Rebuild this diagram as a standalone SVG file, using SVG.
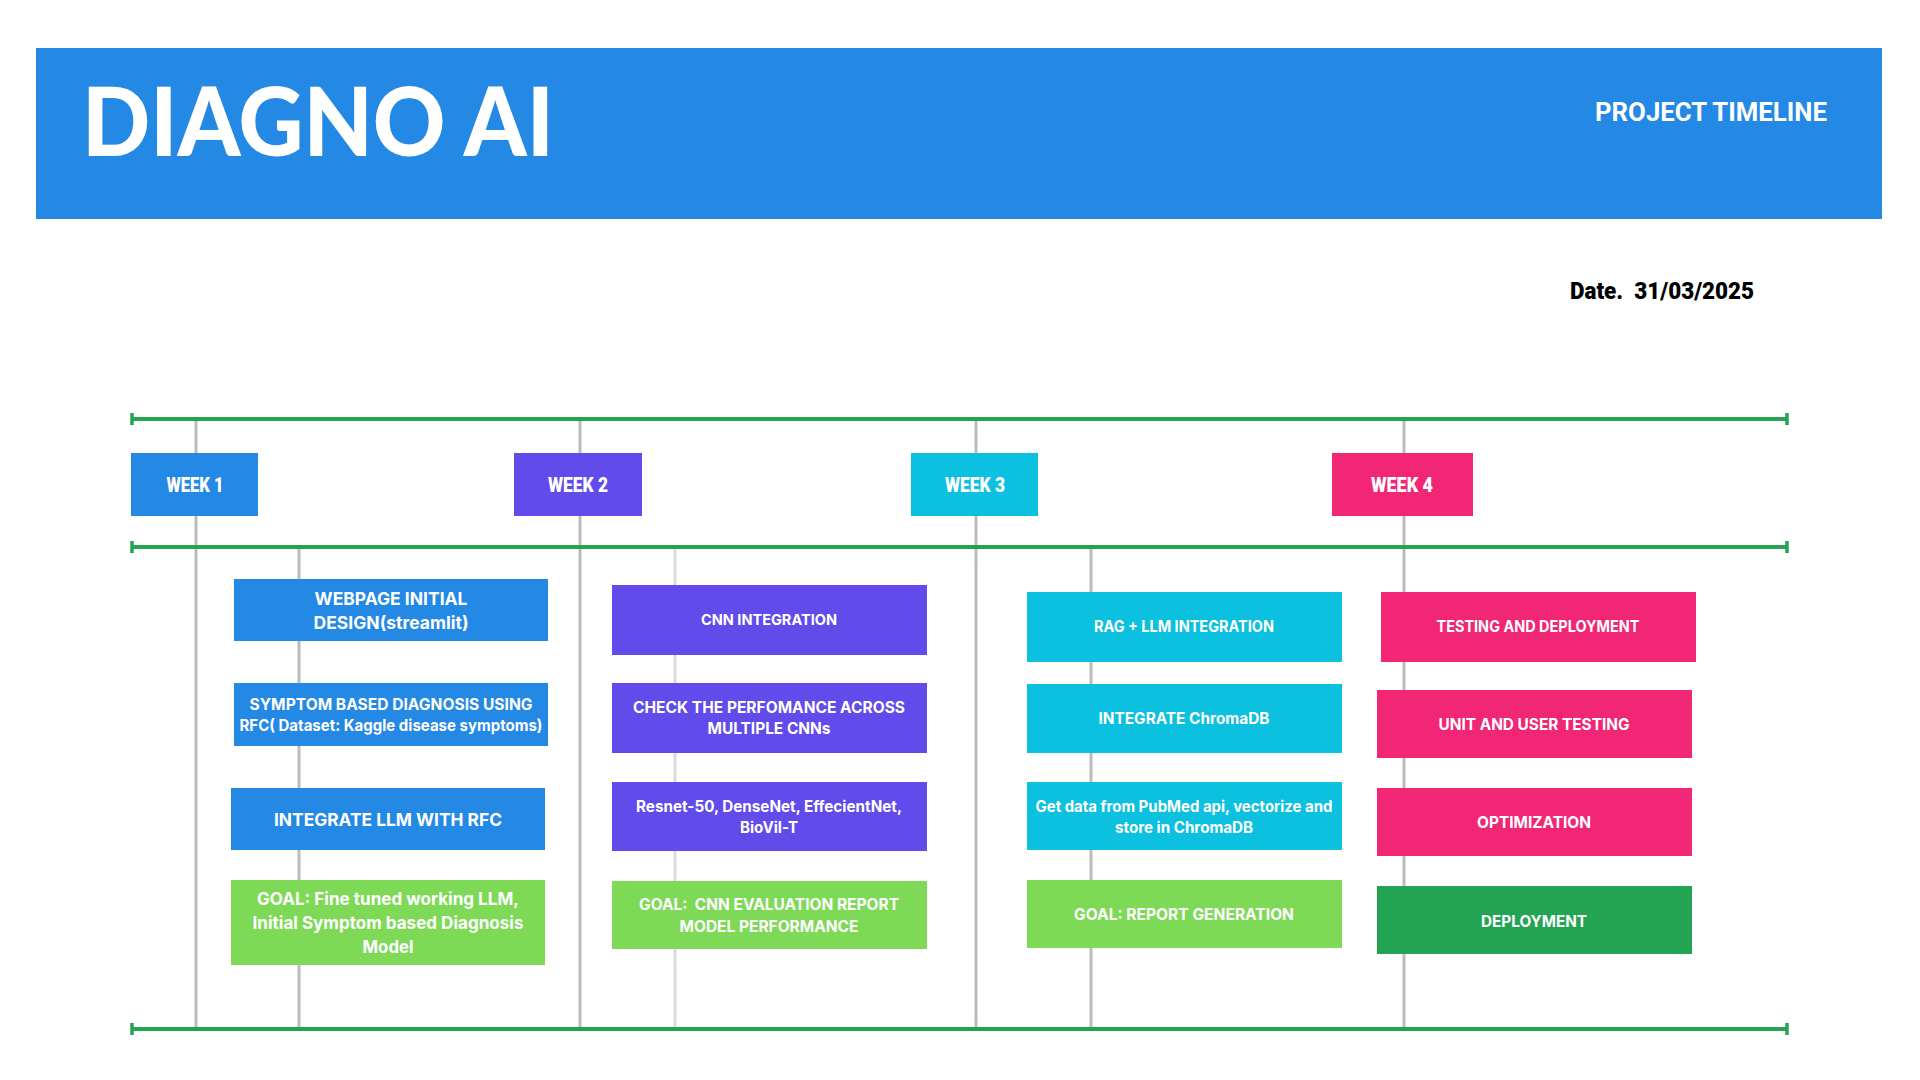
<svg xmlns="http://www.w3.org/2000/svg" width="1920" height="1080" viewBox="0 0 1920 1080">
<style>
.t{font-family:Inter,"Noto Sans","Liberation Sans",sans-serif;font-weight:700;fill:#fff;text-anchor:middle}
.w{font-family:Roboto,"Liberation Sans",sans-serif;font-weight:900;fill:#fff;text-anchor:middle;font-size:20px}
.g{stroke:#24a352;stroke-width:4;fill:none}
.cap{stroke:#24a352;stroke-width:3.5}
.v{stroke:#bcbcbc;stroke-width:3}
.vl{stroke:#dcdcdc;stroke-width:3}
.blue{fill:#2488e5}.pur{fill:#614bea}.cyan{fill:#0cc0df}.pink{fill:#f12675}.lg{fill:#7ed957}.dg{fill:#23a455}
</style>
<rect width="1920" height="1080" fill="#fff"/>
<g id="header">
<rect x="36" y="48" width="1846" height="171" fill="#2488e5"/>
<text x="82" y="156" font-family="Lato,Inter,'Liberation Sans',sans-serif" font-weight="900" font-size="95" fill="#fff" textLength="472" lengthAdjust="spacingAndGlyphs">DIAGNO AI</text>
<text x="1595" y="121" font-family="Roboto,'Liberation Sans',sans-serif" font-weight="700" font-size="25" fill="#fff" textLength="232" lengthAdjust="spacingAndGlyphs">PROJECT TIMELINE</text>
</g>
<g id="date">
<text x="1570" y="299" font-family="Roboto,'Liberation Sans',sans-serif" font-weight="900" font-size="24" fill="#000" textLength="184" lengthAdjust="spacingAndGlyphs" xml:space="preserve">Date.  31/03/2025</text>
</g>
<g id="connectors">
<line class="v" x1="196" y1="419" x2="196" y2="1029"/>
<line class="v" x1="299" y1="547" x2="299" y2="1029"/>
<line class="v" x1="580" y1="419" x2="580" y2="1029"/>
<line class="vl" x1="675" y1="547" x2="675" y2="1029"/>
<line class="v" x1="976" y1="419" x2="976" y2="1029"/>
<line class="v" x1="1091" y1="547" x2="1091" y2="1029"/>
<line class="v" x1="1404" y1="419" x2="1404" y2="1029"/>
<line class="g" x1="132" y1="419" x2="1787" y2="419"/>
<line class="cap" x1="132" y1="413" x2="132" y2="425"/>
<line class="cap" x1="1787" y1="413" x2="1787" y2="425"/>
<line class="g" x1="132" y1="547" x2="1787" y2="547"/>
<line class="cap" x1="132" y1="541" x2="132" y2="553"/>
<line class="cap" x1="1787" y1="541" x2="1787" y2="553"/>
<line class="g" x1="132" y1="1029" x2="1787" y2="1029"/>
<line class="cap" x1="132" y1="1023" x2="132" y2="1035"/>
<line class="cap" x1="1787" y1="1023" x2="1787" y2="1035"/>
</g>
<g id="week1"><rect class="blue" x="131" y="453" width="127" height="63"/><text class="w" x="195" y="492" textLength="57" lengthAdjust="spacingAndGlyphs">WEEK 1</text></g>
<g id="week2"><rect class="pur" x="514" y="453" width="128" height="63"/><text class="w" x="578" y="492" textLength="60" lengthAdjust="spacingAndGlyphs">WEEK 2</text></g>
<g id="week3"><rect class="cyan" x="911" y="453" width="127" height="63"/><text class="w" x="975" y="492" textLength="60" lengthAdjust="spacingAndGlyphs">WEEK 3</text></g>
<g id="week4"><rect class="pink" x="1332" y="453" width="141" height="63"/><text class="w" x="1402" y="492" textLength="62" lengthAdjust="spacingAndGlyphs">WEEK 4</text></g>

<g id="w1-webpage"><rect class="blue" x="234" y="579" width="314" height="62"/>
<text class="t" x="391" y="605" font-size="17.5" textLength="153" lengthAdjust="spacingAndGlyphs">WEBPAGE INITIAL</text>
<text class="t" x="391" y="629" font-size="17.5" textLength="155" lengthAdjust="spacingAndGlyphs">DESIGN(streamlit)</text></g>
<g id="w1-symptom"><rect class="blue" x="234" y="683" width="314" height="63"/>
<text class="t" x="391" y="710" font-size="16" textLength="283" lengthAdjust="spacingAndGlyphs">SYMPTOM BASED DIAGNOSIS USING</text>
<text class="t" x="391" y="731" font-size="16" textLength="303" lengthAdjust="spacingAndGlyphs">RFC( Dataset: Kaggle disease symptoms)</text></g>
<g id="w1-llm"><rect class="blue" x="231" y="788" width="314" height="62"/>
<text class="t" x="388" y="826" font-size="17.5" textLength="228" lengthAdjust="spacingAndGlyphs">INTEGRATE LLM WITH RFC</text></g>
<g id="w1-goal"><rect class="lg" x="231" y="880" width="314" height="85"/>
<text class="t" x="388" y="905" font-size="17.5" textLength="262" lengthAdjust="spacingAndGlyphs">GOAL: Fine tuned working LLM,</text>
<text class="t" x="388" y="929" font-size="17.5" textLength="271" lengthAdjust="spacingAndGlyphs">Initial Symptom based Diagnosis</text>
<text class="t" x="388" y="953" font-size="17.5" textLength="51" lengthAdjust="spacingAndGlyphs">Model</text></g>

<g id="w2-cnn"><rect class="pur" x="612" y="585" width="315" height="70"/>
<text class="t" x="769" y="625" font-size="15" textLength="136" lengthAdjust="spacingAndGlyphs">CNN INTEGRATION</text></g>
<g id="w2-check"><rect class="pur" x="612" y="683" width="315" height="70"/>
<text class="t" x="769" y="713" font-size="15.5" textLength="272" lengthAdjust="spacingAndGlyphs">CHECK THE PERFOMANCE ACROSS</text>
<text class="t" x="769" y="734" font-size="15.5" textLength="123" lengthAdjust="spacingAndGlyphs">MULTIPLE CNNs</text></g>
<g id="w2-models"><rect class="pur" x="612" y="782" width="315" height="69"/>
<text class="t" x="769" y="812" font-size="15.5" textLength="266" lengthAdjust="spacingAndGlyphs">Resnet-50, DenseNet, EffecientNet,</text>
<text class="t" x="769" y="833" font-size="15.5" textLength="58" lengthAdjust="spacingAndGlyphs">BioVil-T</text></g>
<g id="w2-goal"><rect class="lg" x="612" y="881" width="315" height="68"/>
<text class="t" x="769" y="910" font-size="15.5" textLength="260" lengthAdjust="spacingAndGlyphs" xml:space="preserve">GOAL:  CNN EVALUATION REPORT</text>
<text class="t" x="769" y="932" font-size="15.5" textLength="179" lengthAdjust="spacingAndGlyphs">MODEL PERFORMANCE</text></g>

<g id="w3-rag"><rect class="cyan" x="1027" y="592" width="315" height="70"/>
<text class="t" x="1184" y="632" font-size="15.5" textLength="180" lengthAdjust="spacingAndGlyphs">RAG + LLM INTEGRATION</text></g>
<g id="w3-chroma"><rect class="cyan" x="1027" y="684" width="315" height="69"/>
<text class="t" x="1184" y="724" font-size="16" textLength="171" lengthAdjust="spacingAndGlyphs">INTEGRATE ChromaDB</text></g>
<g id="w3-pubmed"><rect class="cyan" x="1027" y="782" width="315" height="68"/>
<text class="t" x="1184" y="812" font-size="15.5" textLength="297" lengthAdjust="spacingAndGlyphs">Get data from PubMed api, vectorize and</text>
<text class="t" x="1184" y="833" font-size="15.5" textLength="138" lengthAdjust="spacingAndGlyphs">store in ChromaDB</text></g>
<g id="w3-goal"><rect class="lg" x="1027" y="880" width="315" height="68"/>
<text class="t" x="1184" y="920" font-size="16" textLength="220" lengthAdjust="spacingAndGlyphs">GOAL: REPORT GENERATION</text></g>

<g id="w4-testing"><rect class="pink" x="1381" y="592" width="315" height="70"/>
<text class="t" x="1538" y="632" font-size="15.5" textLength="203" lengthAdjust="spacingAndGlyphs">TESTING AND DEPLOYMENT</text></g>
<g id="w4-unit"><rect class="pink" x="1377" y="690" width="315" height="68"/>
<text class="t" x="1534" y="730" font-size="16" textLength="191" lengthAdjust="spacingAndGlyphs">UNIT AND USER TESTING</text></g>
<g id="w4-opt"><rect class="pink" x="1377" y="788" width="315" height="68"/>
<text class="t" x="1534" y="828" font-size="16" textLength="114" lengthAdjust="spacingAndGlyphs">OPTIMIZATION</text></g>
<g id="w4-deploy"><rect class="dg" x="1377" y="886" width="315" height="68"/>
<text class="t" x="1534" y="927" font-size="16" textLength="106" lengthAdjust="spacingAndGlyphs">DEPLOYMENT</text></g>
</svg>
